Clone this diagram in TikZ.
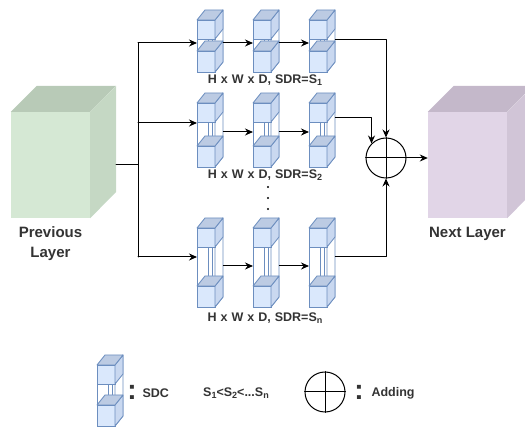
\documentclass[tikz,border=0pt]{standalone}
\usepackage{fontspec}
\setmainfont{Liberation Sans}
\usetikzlibrary{arrows.meta,positioning}
\definecolor{sdcfront}{HTML}{DAE8FC}
\definecolor{sdcside}{HTML}{C9D8F0}
\definecolor{sdctop}{HTML}{BCCBE3}
\definecolor{sdcedge}{HTML}{6C8EBF}
\definecolor{prevfront}{HTML}{D5E8D4}
\definecolor{prevside}{HTML}{C5D8C4}
\definecolor{prevtop}{HTML}{B8CAB7}
\definecolor{nextfront}{HTML}{E1D5E7}
\definecolor{nextside}{HTML}{D1C5D7}
\definecolor{nexttop}{HTML}{C4B8CA}
\definecolor{labelgrey}{HTML}{333333}
\newcommand{\rowfont}{\bfseries\fontsize{12.5}{14}\selectfont\spaceskip 4pt plus 1pt\relax}
\tikzset{
  every picture/.style={line join=round, line cap=round, >={Stealth[length=8pt,width=7pt]}},
  conn/.style={->, line width=1pt},
  wire/.style={line width=1pt},
  sdcedge/.style={draw=sdcedge, line width=0.8pt},
  layerlbl/.style={font=\bfseries\fontsize{15}{20}\selectfont, text=labelgrey, align=center},
  rowlbl/.style={font=\rowfont, text=labelgrey},
  colon/.style={font=\bfseries\fontsize{28}{28}\selectfont, text=labelgrey},
}
\newcommand{\subs}[1]{\raisebox{-2.5pt}{\fontsize{9}{9}\selectfont #1}}
% one SDC column: name, x, y of front top left, front height
\newcommand{\sdc}[4]{%
  \begin{scope}[shift={(#2,#3)}]
    \filldraw[fill=white,sdcedge] (0,0) rectangle (18,#4);
    \filldraw[fill=white,sdcedge] (18,0) -- (26,-10) -- (26,{#4-10}) -- (18,#4) -- cycle;
    \draw[sdcedge,line width=0.5pt] (11,19) -- (11,{#4-26}) (15,19) -- (15,{#4-24});
    % top cube
    \filldraw[fill=sdcfront,sdcedge] (0,0) rectangle (18,19);
    \filldraw[fill=sdcside,sdcedge] (18,0) -- (26,-10) -- (26,9) -- (18,19) -- cycle;
    \filldraw[fill=sdctop,sdcedge] (0,0) -- (8,-10) -- (26,-10) -- (18,0) -- cycle;
    % bottom cube
    \filldraw[fill=sdcfront,sdcedge] (0,{#4-21}) rectangle (18,#4);
    \filldraw[fill=sdcside,sdcedge] (18,{#4-21}) -- (26,{#4-31}) -- (26,{#4-10}) -- (18,#4) -- cycle;
    \filldraw[fill=sdctop,sdcedge] (0,{#4-21}) -- (8,{#4-31}) -- (26,{#4-31}) -- (18,{#4-21}) -- cycle;
    \node[inner sep=0, minimum width=26, minimum height=#4+10, anchor=north west] (#1) at (0,-10) {};
  \end{scope}
}

\begin{document}
\begin{tikzpicture}[x=1pt,y=-1pt]
\useasboundingbox (0,0) rectangle (525,427);
\clip (0,0) rectangle (525,427);

% layers
\node[fill=prevfront, minimum width=79, minimum height=106, inner sep=0] (prev) at (50.5,165) {};
\fill[prevtop] (prev.north west) -- ++(26,-26) -- ++(79,0) -- (prev.north east) -- cycle;
\fill[prevside] (prev.north east) -- ++(26,-26) -- ++(0,106) -- (prev.south east) -- cycle;
\node[layerlbl, below=5pt of prev] (prevlbl) {Previous\\Layer};

\node[fill=nextfront, minimum width=79, minimum height=106, inner sep=0] (next) at (467.5,165) {};
\fill[nexttop] (next.north west) -- ++(26,-26) -- ++(79,0) -- (next.north east) -- cycle;
\fill[nextside] (next.north east) -- ++(26,-26) -- ++(0,106) -- (next.south east) -- cycle;
\node[layerlbl, below=5pt of next] (nextlbl) {Next Layer};

% SDC rows
\foreach \c/\x in {1/197,2/253,3/309} {
  \sdc{b1\c}{\x}{20}{52}
  \sdc{b2\c}{\x}{103}{64}
  \sdc{b3\c}{\x}{228}{79}
}
\node[rowlbl] (row1) at (265,80) {H x W x D, SDR=S\subs{1}};
\node[rowlbl] (row2) at (265,175) {H x W x D, SDR=S\subs{2}};
\node[rowlbl] (row3) at (265,318) {H x W x D, SDR=S\subs{n}};
\foreach \y in {187,198,209}
  \fill (268,\y) circle (1.2);

% adding
\node[circle, draw, line width=1pt, minimum size=40, inner sep=0] (add) at (386,158) {};
\draw[line width=1pt] (add.north) -- (add.south) (add.west) -- (add.east);

% connectors
\coordinate (bus) at (138,165);
\coordinate (in1) at (138,43);
\coordinate (in2) at (138,123);
\coordinate (in3) at (138,257);
\coordinate (m1) at (0,43);
\coordinate (m2) at (0,132);
\coordinate (m3) at (0,266);
\coordinate (o1) at (0,40);
\coordinate (o2) at (0,118);
\coordinate (o3) at (0,257);
\draw[wire] ([xshift=26]prev.east) -- (bus);
\draw[wire] (in1) -- (in3);
\foreach \r in {1,2,3} {
  \draw[conn] (in\r) -- (in\r -| b\r1.west);
  \draw[conn] (b\r1.east |- m\r) -- (b\r2.west |- m\r);
  \draw[conn] (b\r2.east |- m\r) -- (b\r3.west |- m\r);
}
\draw[conn] (b13.east |- o1) -| (add.north);
\draw[conn] (b23.east |- o2) -| (add.135);
\draw[conn] (b33.east |- o3) -| (add.south);
\draw[conn] (add.east) -- (add.east -| next.west);

% legend
\sdc{leg}{97}{365}{61}
\node[colon] (colon1) at (132,392) {:};
\node[rowlbl, anchor=west] (sdclbl) at (139,393) {SDC};
\node[rowlbl] (order) at (236,393) {S\subs{1}<S\subs{2}<...S\subs{n}};
\node[circle, draw, line width=1pt, minimum size=40, inner sep=0] (legadd) at (325,392) {};
\draw[line width=1pt] (legadd.north) -- (legadd.south) (legadd.west) -- (legadd.east);
\node[colon] (colon2) at (359,392) {:};
\node[rowlbl, anchor=west] (addlbl) at (368,393) {Adding};
\end{tikzpicture}
\end{document}
